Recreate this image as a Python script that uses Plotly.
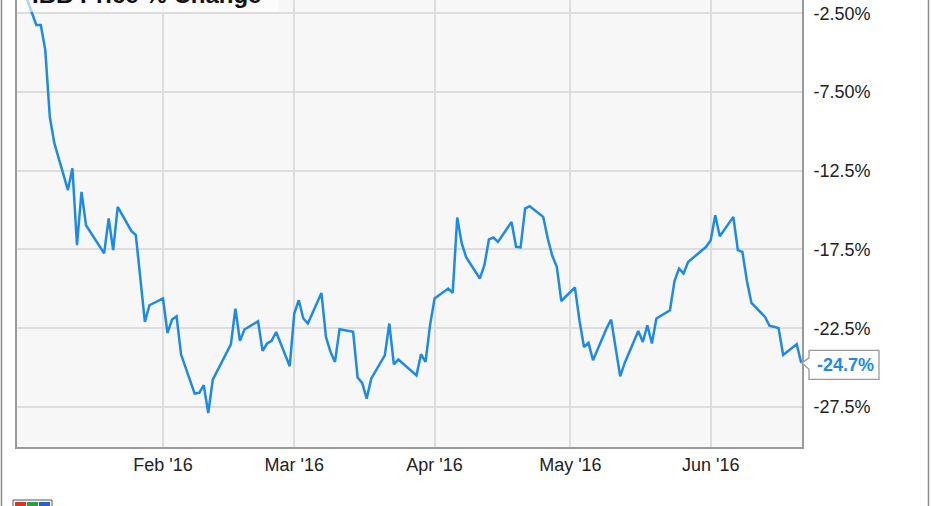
import plotly.graph_objects as go

# ---- data (IBB price % change) ----
dates = [
    "2015-12-31",
    "2016-01-04", "2016-01-05", "2016-01-06", "2016-01-07", "2016-01-08",
    "2016-01-11", "2016-01-12", "2016-01-13", "2016-01-14", "2016-01-15",
    "2016-01-19", "2016-01-20", "2016-01-21", "2016-01-22",
    "2016-01-25", "2016-01-26", "2016-01-27", "2016-01-28", "2016-01-29",
    "2016-02-01", "2016-02-02", "2016-02-03", "2016-02-04", "2016-02-05",
    "2016-02-08", "2016-02-09", "2016-02-10", "2016-02-11", "2016-02-12",
    "2016-02-16", "2016-02-17", "2016-02-18", "2016-02-19",
    "2016-02-22", "2016-02-23", "2016-02-24", "2016-02-25", "2016-02-26",
    "2016-02-29", "2016-03-01", "2016-03-02", "2016-03-03", "2016-03-04",
    "2016-03-07", "2016-03-08", "2016-03-09", "2016-03-10", "2016-03-11",
    "2016-03-14", "2016-03-15", "2016-03-16", "2016-03-17", "2016-03-18",
    "2016-03-21", "2016-03-22", "2016-03-23", "2016-03-24",
    "2016-03-28", "2016-03-29", "2016-03-30", "2016-03-31", "2016-04-01",
    "2016-04-04", "2016-04-05", "2016-04-06", "2016-04-07", "2016-04-08",
    "2016-04-11", "2016-04-12", "2016-04-13", "2016-04-14", "2016-04-15",
    "2016-04-18", "2016-04-19", "2016-04-20", "2016-04-21", "2016-04-22",
    "2016-04-25", "2016-04-26", "2016-04-27", "2016-04-28", "2016-04-29",
    "2016-05-02", "2016-05-03", "2016-05-04", "2016-05-05", "2016-05-06",
    "2016-05-09", "2016-05-10", "2016-05-11", "2016-05-12", "2016-05-13",
    "2016-05-16", "2016-05-17", "2016-05-18", "2016-05-19", "2016-05-20",
    "2016-05-23", "2016-05-24", "2016-05-25", "2016-05-26", "2016-05-27",
    "2016-05-31", "2016-06-01", "2016-06-02", "2016-06-03",
    "2016-06-06", "2016-06-07", "2016-06-08", "2016-06-09", "2016-06-10",
    "2016-06-13", "2016-06-14", "2016-06-15", "2016-06-16", "2016-06-17",
    "2016-06-20", "2016-06-21",
]
pct_change = [
    0.0,
    -3.25, -3.25, -4.84, -9.09, -10.75,
    -13.73, -12.35, -17.23, -13.84, -15.96,
    -17.75, -15.53, -17.54, -14.80,
    -16.32, -16.59, -19.40, -22.10, -21.04,
    -20.61, -22.80, -21.95, -21.74, -24.17,
    -26.65, -26.60, -26.12, -27.88, -25.76,
    -23.52, -21.25, -23.30, -22.58,
    -22.06, -23.94, -23.47, -23.30, -22.74,
    -24.91, -21.57, -20.72, -21.88, -22.20,
    -20.26, -23.05, -24.00, -24.64, -22.56,
    -22.73, -25.63, -25.97, -26.97, -25.70,
    -24.22, -22.20, -24.79, -24.49,
    -25.49, -24.15, -24.64, -22.30, -20.61,
    -19.98, -20.26, -15.47, -17.12, -18.01,
    -19.34, -18.50, -16.86, -16.74, -17.02,
    -15.75, -17.33, -17.37, -14.90, -14.75,
    -15.43, -16.80, -17.90, -18.60, -20.77,
    -19.91, -21.99, -23.69, -23.43, -24.53,
    -22.50, -21.95, -23.70, -25.55, -24.70,
    -22.67, -23.37, -22.31, -23.47, -21.88,
    -21.36, -19.50, -18.71, -19.02, -18.29,
    -17.33, -16.91, -15.32, -16.66,
    -15.43, -17.54, -17.65, -19.50, -20.89,
    -21.78, -22.35, -22.40, -22.50, -24.20,
    -23.52, -24.70,
]
series_name = "IBB Price % Change"
last_label = "-24.7%"

x_tickvals = ["2016-02-01", "2016-03-01", "2016-04-01", "2016-05-01", "2016-06-01"]
x_ticktext = ["Feb '16", "Mar '16", "Apr '16", "May '16", "Jun '16"]
y_tickvals = [-2.5, -7.5, -12.5, -17.5, -22.5, -27.5]
y_ticktext = ["-2.50%", "-7.50%", "-12.5%", "-17.5%", "-22.5%", "-27.5%"]

# ---- styling ----
W, H = 931, 506
ML, MR, MT, MB = 17, 129, 0, 59
PW, PH = W - ML - MR, H - MT - MB
LINE = "#1e8ae8"
FONT = "Arial, Liberation Sans, sans-serif"


def px_x(p):
    return (p - ML) / PW


def px_y(p):
    return 1 - (p - MT) / PH


fig = go.Figure()
fig.add_trace(go.Scatter(
    x=dates, y=pct_change, mode="lines", name=series_name,
    line=dict(color=LINE, width=2.5), hoverinfo="skip", showlegend=False,
))

shapes = [
    # semi-transparent legend box at top-left
    dict(type="rect", xref="paper", yref="paper", x0=0, x1=px_x(279),
         y0=px_y(12), y1=px_y(-40), fillcolor="rgba(255,255,255,0.62)",
         line=dict(width=0), layer="above"),
    # callout box for the last value
    dict(type="path", xref="paper", yref="y", xanchor=1, yanchor=pct_change[-1],
         xsizemode="pixel", ysizemode="pixel",
         path="M 0 0 L 7 5 L 7 12.5 L 77 12.5 L 77 -16.5 L 7 -16.5 L 7 -6.5 Z",
         fillcolor="white", line=dict(color="#9a9a9a", width=1.3), layer="above"),
    # outer frame lines
    dict(type="line", xref="paper", yref="paper", x0=px_x(1.5), x1=px_x(1.5),
         y0=px_y(0), y1=px_y(H), line=dict(color="#8c8c8c", width=1.5)),
    dict(type="line", xref="paper", yref="paper", x0=px_x(928.5), x1=px_x(928.5),
         y0=px_y(0), y1=px_y(H), line=dict(color="#8c8c8c", width=1.5)),
    # small logo at bottom-left
    dict(type="rect", xref="paper", yref="paper", x0=px_x(13), x1=px_x(52),
         y0=px_y(507), y1=px_y(500), fillcolor="#ffffff",
         line=dict(color="#555", width=1)),
    dict(type="rect", xref="paper", yref="paper", x0=px_x(15), x1=px_x(26),
         y0=px_y(507), y1=px_y(502), fillcolor="#d9342b", line=dict(width=0)),
    dict(type="rect", xref="paper", yref="paper", x0=px_x(27), x1=px_x(38),
         y0=px_y(507), y1=px_y(502), fillcolor="#2e9e45", line=dict(width=0)),
    dict(type="rect", xref="paper", yref="paper", x0=px_x(39), x1=px_x(50),
         y0=px_y(507), y1=px_y(502), fillcolor="#2b5fc9", line=dict(width=0)),
]

annotations = [
    dict(text="<b>" + series_name + "</b>", xref="paper", yref="paper",
         x=px_x(30), y=px_y(-6), xanchor="left", yanchor="middle",
         showarrow=False, font=dict(family=FONT, size=24, color="#111")),
    dict(text="<b>" + last_label + "</b>", xref="paper", yref="y",
         x=1, y=pct_change[-1], xanchor="center", yanchor="middle",
         xshift=43, yshift=-2, showarrow=False,
         font=dict(family=FONT, size=18, color=LINE)),
]

fig.update_layout(
    width=W, height=H,
    margin=dict(l=ML, r=MR, t=MT, b=MB),
    paper_bgcolor="white", plot_bgcolor="#f7f7f7",
    font=dict(family=FONT, size=18, color="#222"),
    shapes=shapes, annotations=annotations,
    xaxis=dict(
        type="date", range=["2015-12-30 18:00", "2016-06-21 04:00"],
        tickvals=x_tickvals, ticktext=x_ticktext, ticks="",
        showgrid=True, gridcolor="#dddddd", gridwidth=2,
        showline=True, linecolor="#9a9a9a", linewidth=2,
        zeroline=False, tickfont=dict(size=18, color="#222"),
    ),
    yaxis=dict(
        side="right", range=[-30.04, -1.66],
        tickvals=y_tickvals, ticktext=y_ticktext, ticks="",
        ticklabelstandoff=6,
        showgrid=True, gridcolor="#dddddd", gridwidth=2,
        showline=True, mirror=True, linecolor="#9a9a9a", linewidth=2,
        zeroline=False, tickfont=dict(size=18, color="#222"),
    ),
)

fig.write_html("out.html", config={"displayModeBar": False},
               post_script="document.body.style.margin='0px';")
